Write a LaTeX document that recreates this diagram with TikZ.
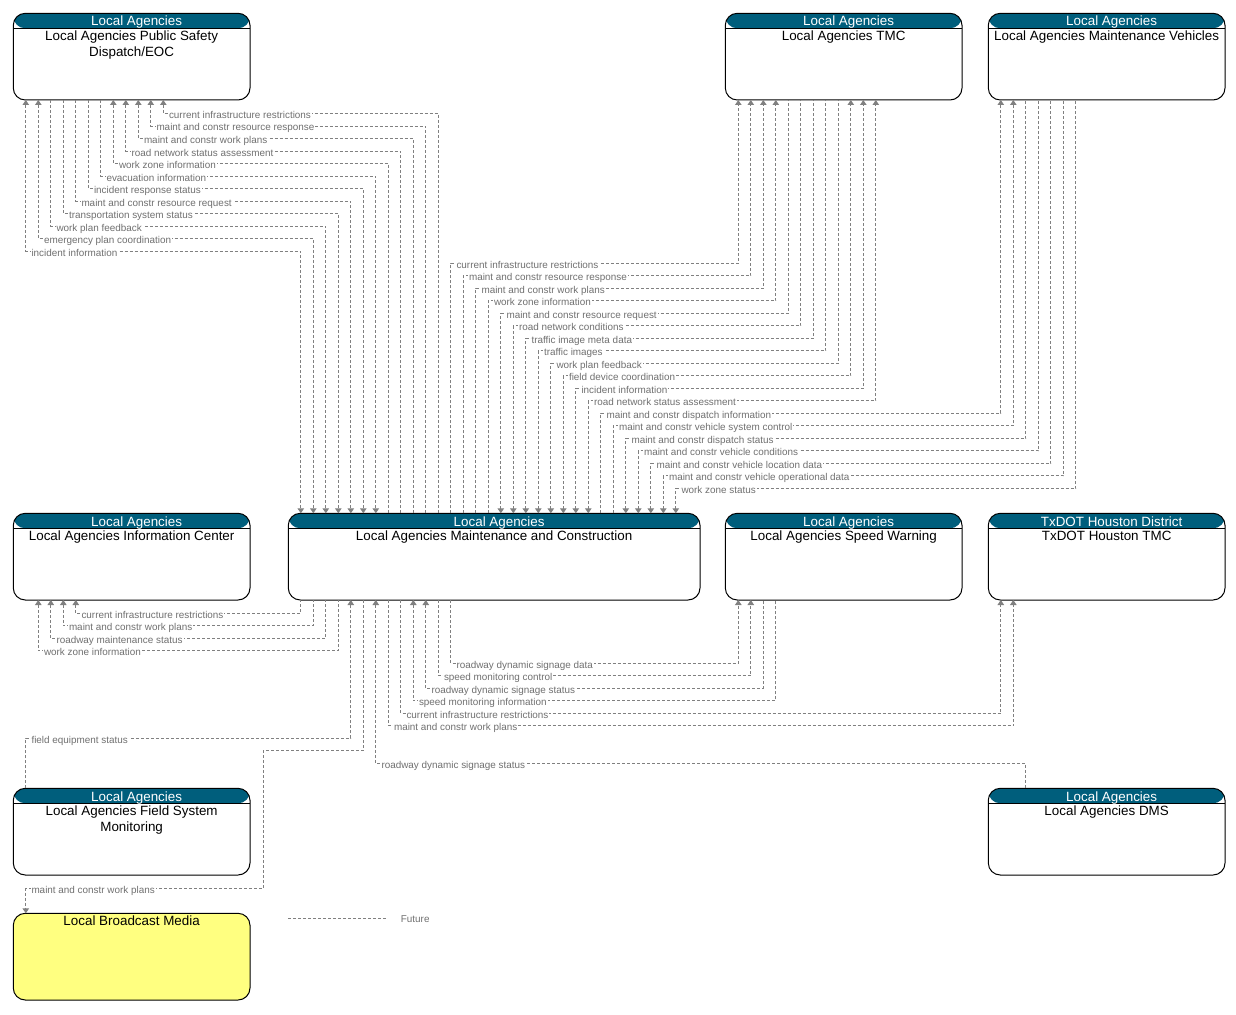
\documentclass[tikz,border=0pt]{standalone}
\usepackage{fontspec}
\setmainfont{Liberation Sans}
\usetikzlibrary{arrows.meta}
\definecolor{headc}{RGB}{0,94,124}
\definecolor{linec}{RGB}{128,128,128}
\definecolor{labc}{RGB}{112,112,112}
\definecolor{bmy}{RGB}{255,255,128}
\newcounter{lbl}
\tikzset{
  agbox/.style={draw=black, line width=1pt, rounded corners=12pt, minimum height=86.7pt,
    inner sep=0pt, outer sep=0pt, anchor=north west, fill=white,
    path picture={\fill[headc] (path picture bounding box.north west) rectangle ([yshift=-15pt]path picture bounding box.north east);
      \draw[black,line width=1pt] ([yshift=-15pt]path picture bounding box.north west) -- ([yshift=-15pt]path picture bounding box.north east);}},
  plainbox/.style={draw=black, line width=1pt, rounded corners=12pt, minimum height=86.7pt,
    inner sep=0pt, outer sep=0pt, anchor=north west},
  headt/.style={anchor=base, text=white, inner sep=0pt, font=\fontsize{13.4}{15}\selectfont},
  titt/.style={anchor=north, align=center, inner sep=0pt, text=black, font=\fontsize{13.4}{15.3}\selectfont},
  conn/.style={draw=linec, line width=0.9pt, dash pattern=on 3pt off 2pt, >={Triangle[width=6.5pt,length=5pt]}},
  lab/.style={anchor=base west, fill=white, inner xsep=1pt, inner ysep=1pt, text=labc, font=\fontsize{9.9}{11}\selectfont},
}
% #1 arrows, #2 left node, #3 anchor, #4 xL, #5 y, #6 right node, #7 anchor, #8 xR, #9 label
\newcommand\cnx[9]{%
  \coordinate (cA) at (#4,#5);
  \coordinate (cB) at (#8,#5);
  \draw[conn,#1] (#2.#3 -| cA) -- (cA) -- (cB) -- (#6.#7 -| cB);
  \stepcounter{lbl}%
  \node[lab] (L\arabic{lbl}) at ([xshift=4.5pt,yshift=-5pt]cA) {#9};
}
\begin{document}
\begin{tikzpicture}[x=1pt,y=-1pt]
\useasboundingbox (0,0) rectangle (1236,1014);
% boxes
\node[agbox, minimum width=236.7pt] (psd) at (13.3,13.3) {};
\node[agbox, minimum width=236.7pt] (tmc) at (725.3,13.3) {};
\node[agbox, minimum width=236.7pt] (mv) at (988.3,13.3) {};
\node[agbox, minimum width=236.7pt] (ic) at (13.3,513.3) {};
\node[agbox, minimum width=411.7pt] (mc) at (288.3,513.3) {};
\node[agbox, minimum width=236.7pt] (sw) at (725.3,513.3) {};
\node[agbox, minimum width=236.7pt] (txd) at (988.3,513.3) {};
\node[agbox, minimum width=236.7pt] (fsm) at (13.3,788.3) {};
\node[agbox, minimum width=236.7pt] (dms) at (988.3,788.3) {};
\node[plainbox, minimum width=236.7pt, fill=bmy] (bm) at (13.3,913.3) {};
% header texts
\foreach \b/\h in {psd/Local Agencies, tmc/Local Agencies, mv/Local Agencies, ic/Local Agencies, mc/Local Agencies, sw/Local Agencies, txd/TxDOT Houston District, fsm/Local Agencies, dms/Local Agencies}{
  \node[headt] (\b H) at ([xshift=5pt,yshift=-12.7pt]\b.north) {\h};
}
% titles
\node[titt] (psdT) at ([yshift=-17.7pt]psd.north) {Local Agencies Public Safety\\Dispatch/EOC};
\node[titt] (tmcT) at ([yshift=-17.7pt]tmc.north) {Local Agencies TMC};
\node[titt] (mvT) at ([yshift=-17.7pt]mv.north) {Local Agencies Maintenance Vehicles};
\node[titt] (icT) at ([yshift=-17.7pt]ic.north) {Local Agencies Information Center};
\node[titt] (mcT) at ([yshift=-17.7pt]mc.north) {Local Agencies Maintenance and Construction};
\node[titt] (swT) at ([yshift=-17.7pt]sw.north) {Local Agencies Speed Warning};
\node[titt] (txdT) at ([yshift=-17.7pt]txd.north) {TxDOT Houston TMC};
\node[titt] (fsmT) at ([yshift=-17.7pt]fsm.north) {Local Agencies Field System\\Monitoring};
\node[titt] (dmsT) at ([yshift=-17.7pt]dms.north) {Local Agencies DMS};
\node[headt, text=black] (bmT) at ([yshift=-12.5pt]bm.north) {Local Broadcast Media};
% PSD <-> MC
\cnx{<-}{psd}{south}{163.3}{113.5}{mc}{north}{438.3}{current infrastructure restrictions}
\cnx{<-}{psd}{south}{150.8}{126.0}{mc}{north}{425.8}{maint and constr resource response}
\cnx{<-}{psd}{south}{138.3}{138.5}{mc}{north}{413.3}{maint and constr work plans}
\cnx{<-}{psd}{south}{125.8}{151.0}{mc}{north}{400.8}{road network status assessment}
\cnx{<-}{psd}{south}{113.3}{163.5}{mc}{north}{388.3}{work zone information}
\cnx{->}{psd}{south}{100.8}{176.0}{mc}{north}{375.8}{evacuation information}
\cnx{->}{psd}{south}{88.3}{188.5}{mc}{north}{363.3}{incident response status}
\cnx{->}{psd}{south}{75.8}{201.0}{mc}{north}{350.8}{maint and constr resource request}
\cnx{->}{psd}{south}{63.3}{213.5}{mc}{north}{338.3}{transportation system status}
\cnx{->}{psd}{south}{50.8}{226.0}{mc}{north}{325.8}{work plan feedback}
\cnx{<->}{psd}{south}{38.3}{238.5}{mc}{north}{313.3}{emergency plan coordination}
\cnx{<->}{psd}{south}{25.8}{251.0}{mc}{north}{300.8}{incident information}
% MC <-> TMC
\cnx{->}{mc}{north}{450.8}{263.3}{tmc}{south}{738.3}{current infrastructure restrictions}
\cnx{->}{mc}{north}{463.3}{275.8}{tmc}{south}{750.8}{maint and constr resource response}
\cnx{->}{mc}{north}{475.8}{288.3}{tmc}{south}{763.3}{maint and constr work plans}
\cnx{->}{mc}{north}{488.3}{300.8}{tmc}{south}{775.8}{work zone information}
\cnx{<-}{mc}{north}{500.8}{313.3}{tmc}{south}{788.3}{maint and constr resource request}
\cnx{<-}{mc}{north}{513.3}{325.8}{tmc}{south}{800.8}{road network conditions}
\cnx{<-}{mc}{north}{525.8}{338.3}{tmc}{south}{813.3}{traffic image meta data}
\cnx{<-}{mc}{north}{538.3}{350.8}{tmc}{south}{825.8}{traffic images}
\cnx{<-}{mc}{north}{550.8}{363.3}{tmc}{south}{838.3}{work plan feedback}
\cnx{<->}{mc}{north}{563.3}{375.8}{tmc}{south}{850.8}{field device coordination}
\cnx{<->}{mc}{north}{575.8}{388.3}{tmc}{south}{863.3}{incident information}
\cnx{<->}{mc}{north}{588.3}{400.8}{tmc}{south}{875.8}{road network status assessment}
% MC <-> MV
\cnx{->}{mc}{north}{600.8}{413.3}{mv}{south}{1000.8}{maint and constr dispatch information}
\cnx{->}{mc}{north}{613.3}{425.8}{mv}{south}{1013.3}{maint and constr vehicle system control}
\cnx{<-}{mc}{north}{625.8}{438.3}{mv}{south}{1025.8}{maint and constr dispatch status}
\cnx{<-}{mc}{north}{638.3}{450.8}{mv}{south}{1038.3}{maint and constr vehicle conditions}
\cnx{<-}{mc}{north}{650.8}{463.3}{mv}{south}{1050.8}{maint and constr vehicle location data}
\cnx{<-}{mc}{north}{663.3}{475.8}{mv}{south}{1063.3}{maint and constr vehicle operational data}
\cnx{<-}{mc}{north}{675.8}{488.3}{mv}{south}{1075.8}{work zone status}
% MC -> IC
\cnx{<-}{ic}{south}{75.8}{613.3}{mc}{south}{300.8}{current infrastructure restrictions}
\cnx{<-}{ic}{south}{63.3}{625.8}{mc}{south}{313.3}{maint and constr work plans}
\cnx{<-}{ic}{south}{50.8}{638.3}{mc}{south}{325.8}{roadway maintenance status}
\cnx{<-}{ic}{south}{38.3}{650.8}{mc}{south}{338.3}{work zone information}
% MC <-> SW, TxDOT
\cnx{->}{mc}{south}{450.8}{663.3}{sw}{south}{738.3}{roadway dynamic signage data}
\cnx{->}{mc}{south}{438.3}{675.8}{sw}{south}{750.8}{speed monitoring control}
\cnx{<-}{mc}{south}{425.8}{688.3}{sw}{south}{763.3}{roadway dynamic signage status}
\cnx{<-}{mc}{south}{413.3}{700.8}{sw}{south}{775.8}{speed monitoring information}
\cnx{->}{mc}{south}{400.8}{713.3}{txd}{south}{1000.8}{current infrastructure restrictions}
\cnx{->}{mc}{south}{388.3}{725.8}{txd}{south}{1013.3}{maint and constr work plans}
% FSM -> MC
\cnx{->}{fsm}{north}{25.8}{738.3}{mc}{south}{350.8}{field equipment status}
% DMS -> MC
\cnx{<-}{mc}{south}{375.8}{763.3}{dms}{north}{1025.8}{roadway dynamic signage status}
% MC -> BM
\coordinate (bm1) at (363.3,750.5);
\coordinate (bm2) at (263.3,750.5);
\coordinate (bm3) at (263.3,888.3);
\coordinate (bm4) at (25.8,888.3);
\draw[conn,->] (mc.south -| bm1) -- (bm1) -- (bm2) -- (bm3) -- (bm4) -- (bm.north -| bm4);
\node[lab] (bmL) at ([xshift=4.5pt,yshift=-5pt]bm4) {maint and constr work plans};
% legend
\coordinate (lg1) at (288,918.3);
\coordinate (lg2) at (386.7,918.3);
\draw[conn] (lg1) -- (lg2);
\node[lab, fill=none] (future) at ([xshift=13pt,yshift=-4pt]lg2) {Future};
\end{tikzpicture}
\end{document}
